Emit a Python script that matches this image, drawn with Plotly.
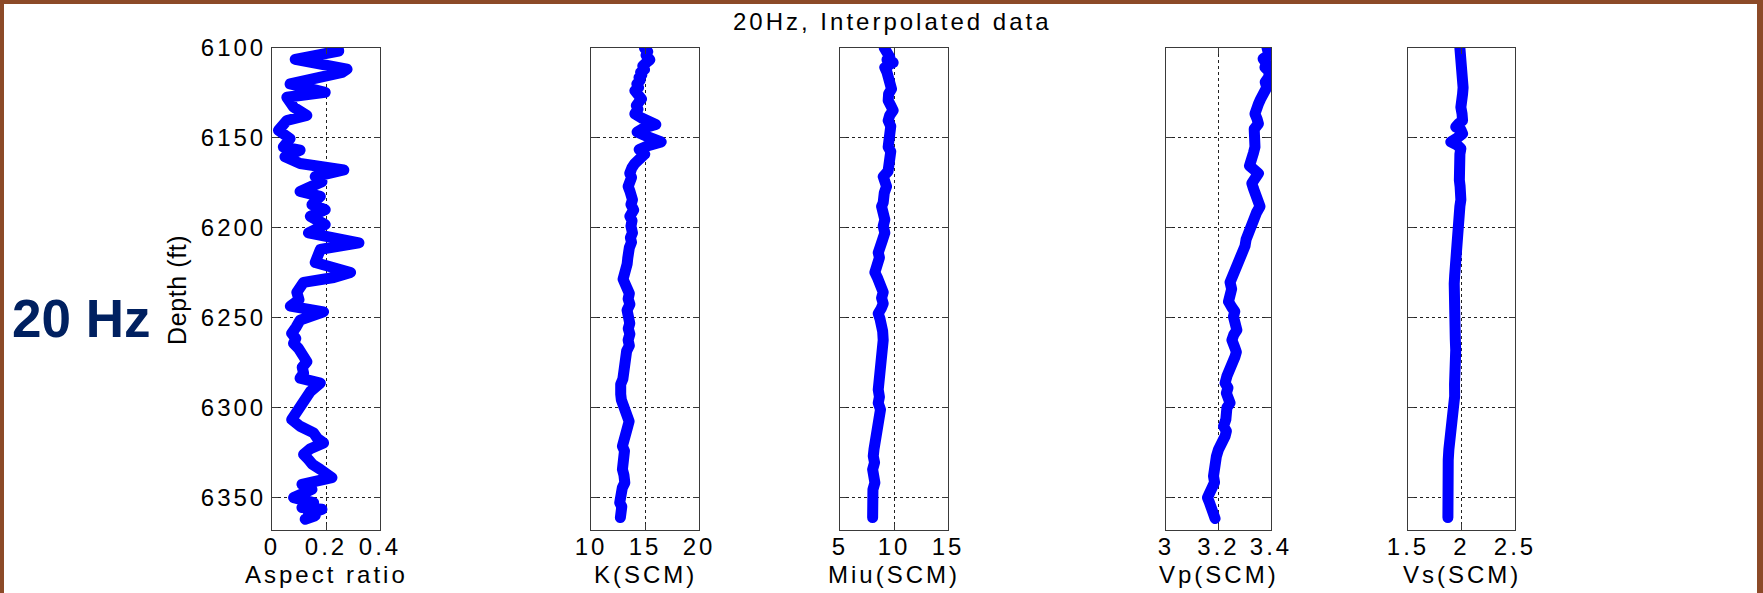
import plotly.graph_objects as go

# ---- log samples: depth (ft) and value per track ----
aspect_depth = [6100.0, 6101.7, 6106.3, 6111.8, 6113.5, 6120.0, 6124.6, 6127.4, 6132.9, 6137.5,
                6140.3, 6145.8, 6150.4, 6155.0, 6156.8, 6160.5, 6164.2, 6167.8, 6171.5, 6174.3,
                6179.8, 6182.5, 6187.1, 6189.9, 6193.6, 6198.2, 6202.8, 6205.5, 6208.3, 6212.0,
                6215.5, 6219.3, 6224.8, 6227.6, 6230.3, 6233.0, 6235.8, 6240.0, 6243.5, 6246.7,
                6251.3, 6255.0, 6258.7, 6261.5, 6264.2, 6267.0, 6269.7, 6274.4, 6277.5, 6280.8,
                6283.6, 6286.3, 6291.0, 6295.6, 6298.5, 6301.1, 6306.6, 6310.3, 6314.0, 6317.0,
                6319.6, 6323.0, 6326.0, 6328.8, 6331.5, 6334.3, 6338.9, 6342.6, 6345.4, 6347.5,
                6350.0, 6352.8, 6355.5, 6356.5, 6359.2, 6360.1, 6362.0]
aspect_ratio = [0.245, 0.247, 0.086, 0.278, 0.260, 0.067, 0.197, 0.055, 0.080, 0.129,
                0.055, 0.024, 0.067, 0.042, 0.104, 0.048, 0.104, 0.266, 0.160, 0.185,
                0.104, 0.179, 0.148, 0.197, 0.142, 0.197, 0.135, 0.229, 0.322, 0.179,
                0.168, 0.160, 0.291, 0.229, 0.117, 0.105, 0.092, 0.100, 0.068, 0.191,
                0.104, 0.090, 0.073, 0.088, 0.080, 0.098, 0.110, 0.129, 0.112, 0.117,
                0.104, 0.179, 0.142, 0.123, 0.118, 0.104, 0.073, 0.104, 0.154, 0.168,
                0.191, 0.140, 0.117, 0.135, 0.150, 0.179, 0.222, 0.111, 0.148, 0.118,
                0.080, 0.154, 0.111, 0.185, 0.135, 0.160, 0.123]

k_depth = [6100.0, 6102.0, 6104.0, 6106.5, 6108.5, 6110.0, 6112.0, 6113.5, 6115.0, 6116.4,
           6118.0, 6120.0, 6122.0, 6123.7, 6125.5, 6128.3, 6130.0, 6132.0, 6134.0, 6136.6,
           6139.0, 6142.5, 6144.5, 6146.7, 6149.0, 6152.2, 6154.5, 6156.4, 6159.0, 6161.5,
           6164.2, 6166.5, 6169.7, 6172.0, 6174.5, 6177.0, 6179.5, 6182.0, 6184.4, 6187.0,
           6190.0, 6193.6, 6196.0, 6199.0, 6202.8, 6205.5, 6208.0, 6211.0, 6213.8, 6217.0,
           6220.0, 6222.5, 6224.8, 6228.5, 6231.0, 6234.0, 6236.5, 6239.5, 6242.5, 6245.8,
           6249.0, 6253.1, 6256.0, 6259.0, 6262.4, 6265.5, 6268.5, 6271.6, 6274.5, 6277.5,
           6280.8, 6284.0, 6287.0, 6290.0, 6292.5, 6295.6, 6299.0, 6303.0, 6305.5, 6307.6,
           6310.5, 6314.0, 6317.5, 6321.4, 6324.0, 6326.9, 6330.0, 6334.3, 6337.5, 6341.7,
           6344.5, 6347.2, 6350.0, 6352.8, 6355.0, 6357.4, 6359.5, 6361.1]
k_scm = [14.95, 15.25, 15.10, 15.45, 15.05, 14.80, 14.95, 14.60, 14.70, 14.45,
         14.55, 14.25, 14.40, 14.06, 14.30, 14.67, 14.45, 14.20, 14.35, 14.06,
         14.70, 16.00, 14.90, 14.27, 15.10, 16.50, 15.20, 14.46, 14.98, 14.40,
         14.06, 13.80, 13.59, 13.75, 13.50, 13.44, 13.60, 13.75, 13.84, 13.70,
         13.95, 13.60, 13.80, 13.70, 13.84, 13.65, 13.75, 13.55, 13.59, 13.40,
         13.35, 13.20, 13.13, 12.97, 13.15, 13.34, 13.55, 13.44, 13.60, 13.34,
         13.50, 13.59, 13.45, 13.60, 13.44, 13.55, 13.30, 13.22, 13.40, 13.20,
         13.13, 12.95, 12.75, 12.66, 12.75, 12.81, 13.05, 13.28, 13.45, 13.53,
         13.40, 13.22, 13.05, 12.91, 13.10, 13.03, 12.85, 12.91, 13.05, 13.13,
         12.90, 12.81, 12.95, 12.66, 12.85, 12.81, 12.60, 12.72]

miu_depth = [6100.0, 6101.7, 6103.5, 6105.0, 6106.5, 6108.1, 6110.8, 6113.5, 6116.4, 6119.5,
             6122.8, 6125.5, 6129.2, 6132.0, 6134.7, 6137.5, 6140.3, 6143.5, 6147.6, 6151.0,
             6155.0, 6157.5, 6160.5, 6163.0, 6166.0, 6168.5, 6171.5, 6174.0, 6177.0, 6180.5,
             6184.4, 6186.0, 6188.1, 6191.5, 6195.4, 6199.0, 6202.8, 6206.5, 6210.1, 6213.8,
             6216.5, 6219.0, 6222.0, 6224.8, 6227.5, 6230.3, 6233.0, 6235.8, 6239.0, 6242.1,
             6245.0, 6247.6, 6250.5, 6253.1, 6257.5, 6262.4, 6267.0, 6271.6, 6276.0, 6280.8,
             6285.5, 6290.0, 6294.0, 6297.4, 6301.0, 6304.8, 6308.5, 6312.2, 6316.0, 6319.6,
             6323.0, 6326.9, 6330.5, 6334.3, 6338.0, 6341.7, 6345.5, 6349.1, 6352.5, 6356.5,
             6359.0, 6361.1]
miu_scm = [9.10, 9.15, 9.45, 9.60, 9.35, 9.92, 9.15, 9.35, 9.46, 9.70,
           9.77, 9.50, 9.46, 9.70, 9.92, 9.60, 9.46, 9.70, 9.62, 9.45,
           9.46, 9.70, 9.62, 9.40, 9.31, 9.45, 9.00, 9.20, 9.31, 9.10,
           9.15, 9.00, 8.85, 9.10, 9.15, 9.00, 9.15, 8.95, 8.69, 8.54,
           8.65, 8.45, 8.35, 8.23, 8.45, 8.69, 8.85, 9.00, 8.85, 9.00,
           8.80, 8.54, 8.70, 8.85, 8.95, 9.00, 8.90, 8.85, 8.75, 8.69,
           8.60, 8.54, 8.65, 8.54, 8.75, 8.69, 8.50, 8.38, 8.30, 8.23,
           8.15, 8.08, 8.20, 8.02, 8.15, 8.23, 8.05, 8.08, 7.95, 7.92,
           8.05, 8.02]

vp_depth = [6100.0, 6101.7, 6104.0, 6106.0, 6108.5, 6110.8, 6113.5, 6116.4, 6119.0, 6121.9,
            6125.6, 6128.5, 6131.1, 6133.5, 6136.6, 6139.5, 6142.1, 6145.0, 6147.6, 6151.0,
            6155.0, 6158.5, 6162.3, 6165.5, 6169.7, 6172.5, 6175.2, 6178.0, 6180.7, 6184.5,
            6188.1, 6191.5, 6195.4, 6199.0, 6202.8, 6206.5, 6210.1, 6213.5, 6217.5, 6220.0,
            6223.0, 6226.5, 6230.3, 6234.0, 6237.7, 6241.0, 6244.0, 6246.5, 6249.4, 6253.0,
            6256.8, 6259.5, 6262.4, 6266.5, 6269.0, 6271.6, 6275.0, 6279.0, 6282.5, 6286.3,
            6289.0, 6291.9, 6294.5, 6297.4, 6300.0, 6303.0, 6306.5, 6310.3, 6313.0, 6315.9,
            6319.5, 6323.2, 6327.0, 6330.6, 6334.5, 6338.0, 6341.5, 6345.4, 6348.0, 6350.0,
            6352.5, 6354.6, 6357.0, 6359.2, 6361.6]
vp_scm = [3.385, 3.384, 3.392, 3.370, 3.382, 3.377, 3.395, 3.390, 3.378, 3.384,
          3.365, 3.360, 3.352, 3.344, 3.339, 3.347, 3.352, 3.336, 3.339, 3.345,
          3.339, 3.333, 3.327, 3.318, 3.352, 3.340, 3.327, 3.333, 3.339, 3.350,
          3.358, 3.345, 3.333, 3.322, 3.308, 3.305, 3.301, 3.290, 3.282, 3.268,
          3.257, 3.250, 3.244, 3.250, 3.244, 3.238, 3.250, 3.262, 3.257, 3.266,
          3.270, 3.258, 3.251, 3.262, 3.268, 3.263, 3.250, 3.244, 3.232, 3.225,
          3.236, 3.230, 3.240, 3.244, 3.232, 3.234, 3.228, 3.219, 3.230, 3.225,
          3.210, 3.200, 3.192, 3.187, 3.190, 3.181, 3.185, 3.175, 3.165, 3.158,
          3.165, 3.168, 3.172, 3.175, 3.187]

vs_depth = [6100.0, 6103.0, 6106.0, 6110.8, 6114.5, 6118.2, 6122.0, 6125.6, 6129.0, 6132.9,
            6136.5, 6140.3, 6142.0, 6143.9, 6145.5, 6147.6, 6150.0, 6152.2, 6154.0, 6155.9,
            6159.0, 6162.3, 6166.0, 6169.7, 6173.5, 6177.0, 6180.5, 6184.4, 6188.0, 6191.7,
            6195.5, 6199.1, 6202.5, 6206.4, 6212.0, 6217.5, 6222.0, 6226.7, 6231.0, 6235.8,
            6240.5, 6245.8, 6251.0, 6256.8, 6262.0, 6267.9, 6274.0, 6280.8, 6287.0, 6293.7,
            6298.5, 6303.0, 6308.5, 6314.0, 6318.5, 6323.2, 6329.0, 6334.3, 6340.0, 6345.4,
            6350.0, 6354.6, 6358.0, 6361.1]
vs_scm = [1.985, 1.992, 1.984, 1.994, 2.012, 2.025, 2.015, 2.010, 2.000, 1.994,
          2.005, 2.010, 1.975, 1.946, 1.995, 2.010, 1.960, 1.900, 1.960, 1.994,
          1.985, 1.978, 1.990, 1.987, 1.980, 1.987, 1.996, 1.994, 1.985, 1.978,
          1.984, 1.978, 1.966, 1.955, 1.952, 1.946, 1.940, 1.936, 1.932, 1.930,
          1.934, 1.924, 1.930, 1.936, 1.942, 1.946, 1.936, 1.930, 1.935, 1.936,
          1.924, 1.914, 1.900, 1.892, 1.888, 1.882, 1.876, 1.873, 1.870, 1.866,
          1.872, 1.873, 1.870, 1.873]

# ---- axes: ticks, ranges and labels ----
depth_ticks = [6100, 6150, 6200, 6250, 6300, 6350]
depth_labels = ["6100", "6150", "6200", "6250", "6300", "6350"]
depth_range = [6368, 6100]

track_titles = ["Aspect ratio", "K(SCM)", "Miu(SCM)", "Vp(SCM)", "Vs(SCM)"]
track_ranges = [[0, 0.4], [10, 20], [5, 15], [3, 3.4], [1.5, 2.5]]
track_ticks = [[0, 0.2, 0.4], [10, 15, 20], [5, 10, 15], [3, 3.2, 3.4], [1.5, 2, 2.5]]
track_ticklabels = [["0", "0.2", "0.4"], ["10", "15", "20"], ["5", "10", "15"],
                    ["3", "3.2", "3.4"], ["1.5", "2", "2.5"]]
track_depths = [aspect_depth, k_depth, miu_depth, vp_depth, vs_depth]
track_values = [aspect_ratio, k_scm, miu_scm, vp_scm, vs_scm]

plot_title = "20Hz, Interpolated data"
depth_title = "Depth (ft)"
side_label = "20 Hz"

# ---- page geometry (pixels) ----
W, H = 1763, 593
track_left = [272, 591, 840, 1166, 1408]
track_right = [380, 699, 948, 1271, 1515]
plot_top, plot_bottom = 48, 530

FONT = "Liberation Sans, Arial, Helvetica, sans-serif"
AXCOLOR = "#3a3a3a"


def px(x):
    return x / W


def py(y):
    return 1 - y / H


def spaced(t, sp=3):
    return f'<span style="letter-spacing:{sp}px">{t}</span>'


fig = go.Figure()

for i in range(5):
    n = "" if i == 0 else str(i + 1)
    fig.add_trace(go.Scatter(
        x=track_values[i], y=track_depths[i], mode="lines",
        line=dict(color="#0000FF", width=11),
        xaxis="x" + n, yaxis="y" + n, showlegend=False, hoverinfo="skip",
    ))

    common = dict(
        ticks="inside", ticklen=6, tickcolor=AXCOLOR, mirror="ticks",
        showline=True, linecolor=AXCOLOR, linewidth=1,
        showgrid=True, gridcolor="#222222", griddash="dot", gridwidth=1,
        zeroline=False, tickfont=dict(family=FONT, size=24, color="black"),
        fixedrange=True, automargin=False,
    )
    fig.layout["xaxis" + n] = dict(
        domain=[px(track_left[i]), px(track_right[i])],
        range=track_ranges[i], anchor="y" + n,
        tickvals=track_ticks[i], ticktext=[spaced(t) for t in track_ticklabels[i]],
        ticklabelstandoff=-5,
        **common,
    )
    fig.layout["yaxis" + n] = dict(
        domain=[py(plot_bottom), py(plot_top)],
        range=depth_range, anchor="x" + n,
        tickvals=depth_ticks, ticktext=[spaced(t) for t in depth_labels],
        showticklabels=(i == 0),
        **common,
    )

annotations = []
for i in range(5):
    annotations.append(dict(
        text=spaced(track_titles[i]), x=px((track_left[i] + track_right[i]) / 2), y=py(574),
        xref="paper", yref="paper", xanchor="center", yanchor="middle",
        showarrow=False, font=dict(family=FONT, size=24, color="black"),
    ))
annotations.append(dict(
    text=spaced(plot_title), x=px(892), y=py(21), xref="paper", yref="paper",
    xanchor="center", yanchor="middle", showarrow=False,
    font=dict(family=FONT, size=24, color="black"),
))
annotations.append(dict(
    text=spaced(depth_title, 0.6), x=px(177), y=py(290), xref="paper", yref="paper",
    xanchor="center", yanchor="middle", textangle=-90, showarrow=False,
    font=dict(family=FONT, size=25, color="black"),
))
annotations.append(dict(
    text="<b>" + side_label + "</b>", x=px(81), y=py(318), xref="paper", yref="paper",
    xanchor="center", yanchor="middle", showarrow=False,
    font=dict(family=FONT, size=53, color="#002060"),
))

fig.update_layout(
    template="none",
    width=W, height=H, autosize=False,
    margin=dict(l=0, r=0, t=0, b=0, pad=0, autoexpand=False),
    paper_bgcolor="#8C4A28", plot_bgcolor="white",
    annotations=annotations,
    shapes=[dict(type="rect", xref="paper", yref="paper",
                 x0=px(4), x1=px(W - 6), y0=0, y1=py(4),
                 fillcolor="white", line=dict(width=0), layer="below")],
)

# rounded joins so the thick log curves do not grow spiky corners
round_joins = """
document.querySelectorAll('.scatterlayer path.js-line').forEach(function (p) {
  p.style.strokeLinejoin = 'round';
  p.style.strokeLinecap = 'round';
});
"""

fig.write_html("out.html", post_script=round_joins)
